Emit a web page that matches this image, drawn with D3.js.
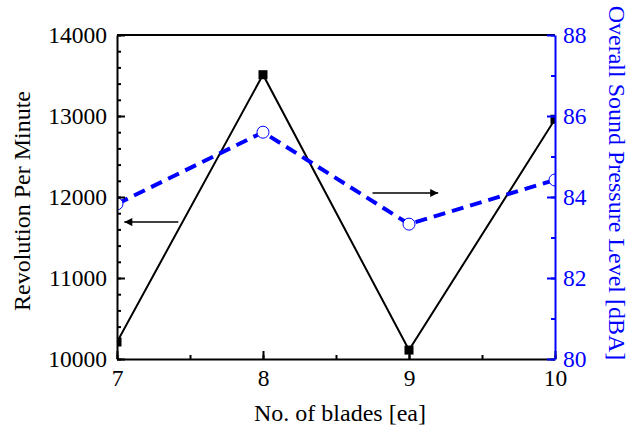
<!DOCTYPE html>
<html>
<head>
<meta charset="utf-8">
<script src="https://cdn.jsdelivr.net/npm/d3@7"></script>
<style>
  body { margin: 0; background: #fff; }
</style>
</head>
<body>
<svg id="chart" width="629" height="430">
  <text transform="translate(30,201) rotate(-90)" text-anchor="middle" font-family="Liberation Serif" font-size="24">Revolution Per Minute</text>
  <text transform="translate(609,183) rotate(90)" text-anchor="middle" fill="#0000ff" font-family="Liberation Serif" font-size="24">Overall Sound Pressure Level [dBA]</text>
  <text x="340" y="421" text-anchor="middle" font-family="Liberation Serif" font-size="24">No. of blades [ea]</text>
</svg>
<script>
// chart values
var blades = [7, 8, 9, 10]
var rpm = [10210, 13510, 10110, 12960]
var spl = [83.83, 85.6, 83.33, 84.42]
var bladeTicks = [7, 8, 9, 10]
var rpmTicks = [10000, 11000, 12000, 13000, 14000]
var splTicks = [80, 82, 84, 86, 88]
// arrows pointing at the axis each curve belongs to
var arrowRpm = {from: 7.42, to: 7.05, value: 11690}
var arrowSpl = {from: 8.75, to: 9.2, value: 84.1}

var W = 629, H = 430
var m = {top: 35, right: 74, bottom: 71, left: 117}
var iw = W - m.left - m.right
var ih = H - m.top - m.bottom
var BLUE = '#0000ff'
var SERIF = 'Liberation Serif'

var svg = d3.select('#chart')

var x = d3.scaleLinear().domain([7, 10]).range([0, iw])
var yL = d3.scaleLinear().domain([10000, 14000]).range([ih, 0])
var yR = d3.scaleLinear().domain([80, 88]).range([ih, 0])

var g = svg.append('g').attr('transform', `translate(${m.left},${m.top})`)

svg.append('defs').append('clipPath').attr('id', 'plot')
  .append('rect').attr('width', iw).attr('height', ih)

svg.select('defs').append('marker')
  .attr('id', 'head')
  .attr('viewBox', '0 0 10 10')
  .attr('refX', 10).attr('refY', 5)
  .attr('markerWidth', 9).attr('markerHeight', 8)
  .attr('markerUnits', 'userSpaceOnUse')
  .attr('orient', 'auto')
  .append('path').attr('d', 'M0,0L10,5L0,10Z').attr('fill', '#000')

/*
    data layers
*/
var plot = g.append('g').attr('clip-path', 'url(#plot)')
var rows = blades.map((b, i) => ({b: b, rpm: rpm[i], spl: spl[i]}))

plot.append('path')
  .datum(rows)
  .attr('fill', 'none')
  .attr('stroke', '#000')
  .attr('stroke-width', 2)
  .attr('d', d3.line().x(d => x(d.b)).y(d => yL(d.rpm)))

plot.append('path')
  .datum(rows)
  .attr('fill', 'none')
  .attr('stroke', BLUE)
  .attr('stroke-width', 4)
  .attr('stroke-dasharray', '12,7')
  .attr('d', d3.line().x(d => x(d.b)).y(d => yR(d.spl)))

plot.selectAll('.sq').data(rows).enter()
  .append('rect')
  .attr('x', d => x(d.b) - 4.5)
  .attr('y', d => yL(d.rpm) - 4.5)
  .attr('width', 9).attr('height', 9)
  .attr('fill', '#000')

plot.selectAll('.ci').data(rows).enter()
  .append('circle')
  .attr('cx', d => x(d.b))
  .attr('cy', d => yR(d.spl))
  .attr('r', 6)
  .attr('fill', '#fff')
  .attr('stroke', BLUE)
  .attr('stroke-width', 1)

// arrows
g.append('line')
  .attr('x1', x(arrowRpm.from)).attr('x2', x(arrowRpm.to))
  .attr('y1', yL(arrowRpm.value)).attr('y2', yL(arrowRpm.value))
  .attr('stroke', '#000').attr('stroke-width', 1.5)
  .attr('marker-end', 'url(#head)')
g.append('line')
  .attr('x1', x(arrowSpl.from)).attr('x2', x(arrowSpl.to))
  .attr('y1', yR(arrowSpl.value)).attr('y2', yR(arrowSpl.value))
  .attr('stroke', '#000').attr('stroke-width', 1.5)
  .attr('marker-end', 'url(#head)')

/*
    axes
*/
function style (sel, color) {
  sel.attr('font-family', SERIF).attr('font-size', 23.5)
  sel.selectAll('path').attr('stroke', color).attr('stroke-width', 2)
  sel.selectAll('line').attr('stroke', color).attr('stroke-width', 2)
  sel.selectAll('text').attr('fill', color).attr('font-family', SERIF)
}

// minor ticks first
g.append('g')
  .call(d3.axisLeft(yL).tickValues(d3.range(10000, 14001, 200)).tickSize(-4).tickFormat(''))
  .call(s => { s.select('.domain').remove(); style(s, '#000') })
g.append('g').attr('transform', `translate(${iw},0)`)
  .call(d3.axisRight(yR).tickValues(d3.range(80, 88.1, 1)).tickSize(-4).tickFormat(''))
  .call(s => { s.select('.domain').remove(); style(s, BLUE) })
g.append('g').attr('transform', `translate(0,${ih})`)
  .call(d3.axisBottom(x).tickValues(d3.range(7, 10.01, 0.5)).tickSize(-4).tickFormat(''))
  .call(s => { s.select('.domain').remove(); style(s, '#000') })

// top frame
g.append('line').attr('x1', 0).attr('x2', iw).attr('y1', 0).attr('y2', 0)
  .attr('stroke', '#000').attr('stroke-width', 2)

g.append('g')
  .call(d3.axisLeft(yL).tickValues(rpmTicks).tickSize(-8).tickSizeOuter(0).tickPadding(10).tickFormat(d3.format('d')))
  .call(s => style(s, '#000'))

g.append('g').attr('transform', `translate(0,${ih})`)
  .call(d3.axisBottom(x).tickValues(bladeTicks).tickSize(-8).tickSizeOuter(0).tickPadding(10).tickFormat(d3.format('d')))
  .call(s => style(s, '#000'))

g.append('g').attr('transform', `translate(${iw},0)`)
  .call(d3.axisRight(yR).tickValues(splTicks).tickSize(-8).tickSizeOuter(0).tickPadding(8).tickFormat(d3.format('d')))
  .call(s => style(s, BLUE))
</script>
</body>
</html>
